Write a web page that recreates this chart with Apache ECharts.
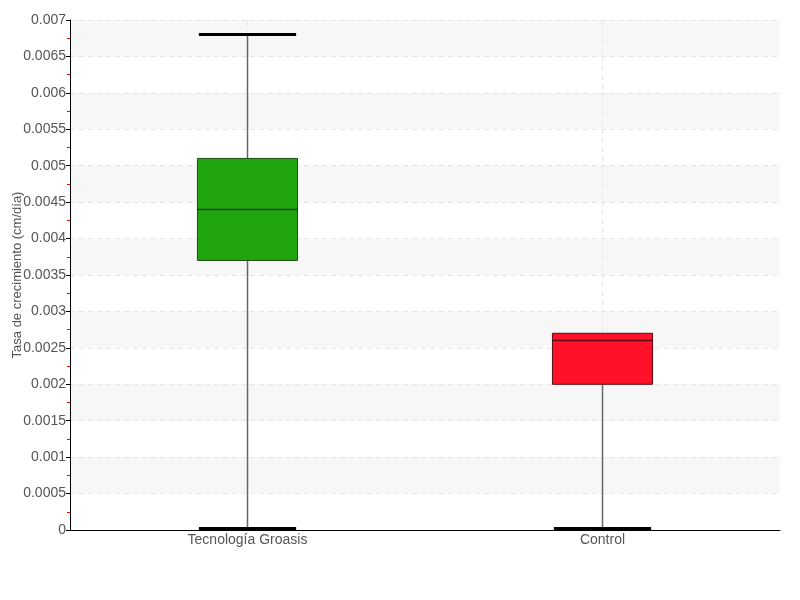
<!DOCTYPE html>
<html><head><meta charset="utf-8">
<script src="https://cdn.jsdelivr.net/npm/echarts@6/dist/echarts.min.js"></script>
<style>html,body{margin:0;padding:0;background:#fff}#c{width:800px;height:600px}</style>
</head><body><div id="c"></div>
<script>
const categories = ['Tecnología Groasis', 'Control'];
const mins    = [0.00002, 0.00002];
const q1s     = [0.0037, 0.0020];
const medians = [0.0044, 0.0026];
const q3s     = [0.0051, 0.0027];
const maxs    = [0.0068, 0.0027];
const boxColors = ['#21a50f', '#ff1129'];
const yAxisName = 'Tasa de crecimiento (cm/día)';

const FONT = '"Liberation Sans", Arial, sans-serif';
const data = categories.map((c, i) => [i, mins[i], q1s[i], medians[i], q3s[i], maxs[i]]);

const chart = echarts.init(document.getElementById('c'), null, {renderer: 'canvas'});
chart.setOption({
  animation: false,
  backgroundColor: '#fff',
  grid: {left: 70, right: 20, top: 20, bottom: 70, containLabel: false, outerBoundsMode: 'none'},
  xAxis: {
    type: 'category', data: categories, boundaryGap: true,
    axisLine: {show: true, lineStyle: {color: '#000', width: 1}},
    axisTick: {show: false},
    axisLabel: {color: '#555', fontSize: 14, fontFamily: FONT, margin: 3},
    splitLine: {show: false}
  },
  yAxis: {
    type: 'value', min: 0, max: 0.007, interval: 0.0005,
    name: yAxisName, nameLocation: 'middle', nameGap: 46, nameMoveOverlap: false,
    nameTextStyle: {color: '#555', fontSize: 13, fontFamily: FONT},
    axisLine: {show: true, lineStyle: {color: '#000', width: 1}},
    axisTick: {show: true, length: 4, lineStyle: {color: '#000'}},
    minorTick: {show: true, splitNumber: 2, length: 3, lineStyle: {color: '#ff0000'}},
    axisLabel: {color: '#555', fontSize: 14, fontFamily: FONT, margin: 4},
    splitLine: {show: true, lineStyle: {color: '#e6e6e6', type: [5, 4]}},
    splitArea: {show: true, areaStyle: {color: ['rgba(255,255,255,0)', '#f7f7f7']}}
  },
  series: [{
    type: 'line', data: [], z: 1, silent: true,
    markLine: {
      silent: true, symbol: 'none', label: {show: false}, z: 1,
      lineStyle: {color: '#e6e6e6', type: [5, 4], width: 1},
      data: categories.map(c => ({xAxis: c}))
    }
  }, {
    type: 'custom', z: 5,
    encode: {x: 0, y: [1, 2, 3, 4, 5]},
    data: data,
    renderItem: function (params, api) {
      const i = api.value(0);
      const x = api.coord([i, 0])[0];
      const band = api.size([1, 0])[0];
      const half = band * 0.141;
      const capHalf = band * 0.137;
      const yMin = api.coord([i, api.value(1)])[1];
      const yQ1 = api.coord([i, api.value(2)])[1];
      const yMed = api.coord([i, api.value(3)])[1];
      const yQ3 = api.coord([i, api.value(4)])[1];
      const yMax = api.coord([i, api.value(5)])[1];
      const children = [];
      const wStyle = {stroke: '#666', lineWidth: 1.5};
      if (yMin - yQ1 > 0.5) children.push({type: 'line', shape: {x1: x, y1: yMin, x2: x, y2: yQ1}, style: wStyle});
      if (yQ3 - yMax > 0.5) children.push({type: 'line', shape: {x1: x, y1: yQ3, x2: x, y2: yMax}, style: wStyle});
      const color = boxColors[i];
      const border = i === 0 ? '#1b4a12' : '#5a0a10';
      children.push({type: 'rect', shape: {x: x - half, y: yQ3, width: 2 * half, height: yQ1 - yQ3},
        style: {fill: color, stroke: border, lineWidth: 1}});
      children.push({type: 'line', shape: {x1: x - half, y1: yMed, x2: x + half, y2: yMed},
        style: {stroke: border, lineWidth: 1.5}});
      const capStyle = {stroke: '#000', lineWidth: 3};
      children.push({type: 'line', shape: {x1: x - capHalf, y1: yMin, x2: x + capHalf, y2: yMin}, style: capStyle});
      if (yQ3 - yMax > 0.5) children.push({type: 'line', shape: {x1: x - capHalf, y1: yMax, x2: x + capHalf, y2: yMax}, style: capStyle});
      return {type: 'group', children: children};
    }
  }]
});
</script></body></html>
